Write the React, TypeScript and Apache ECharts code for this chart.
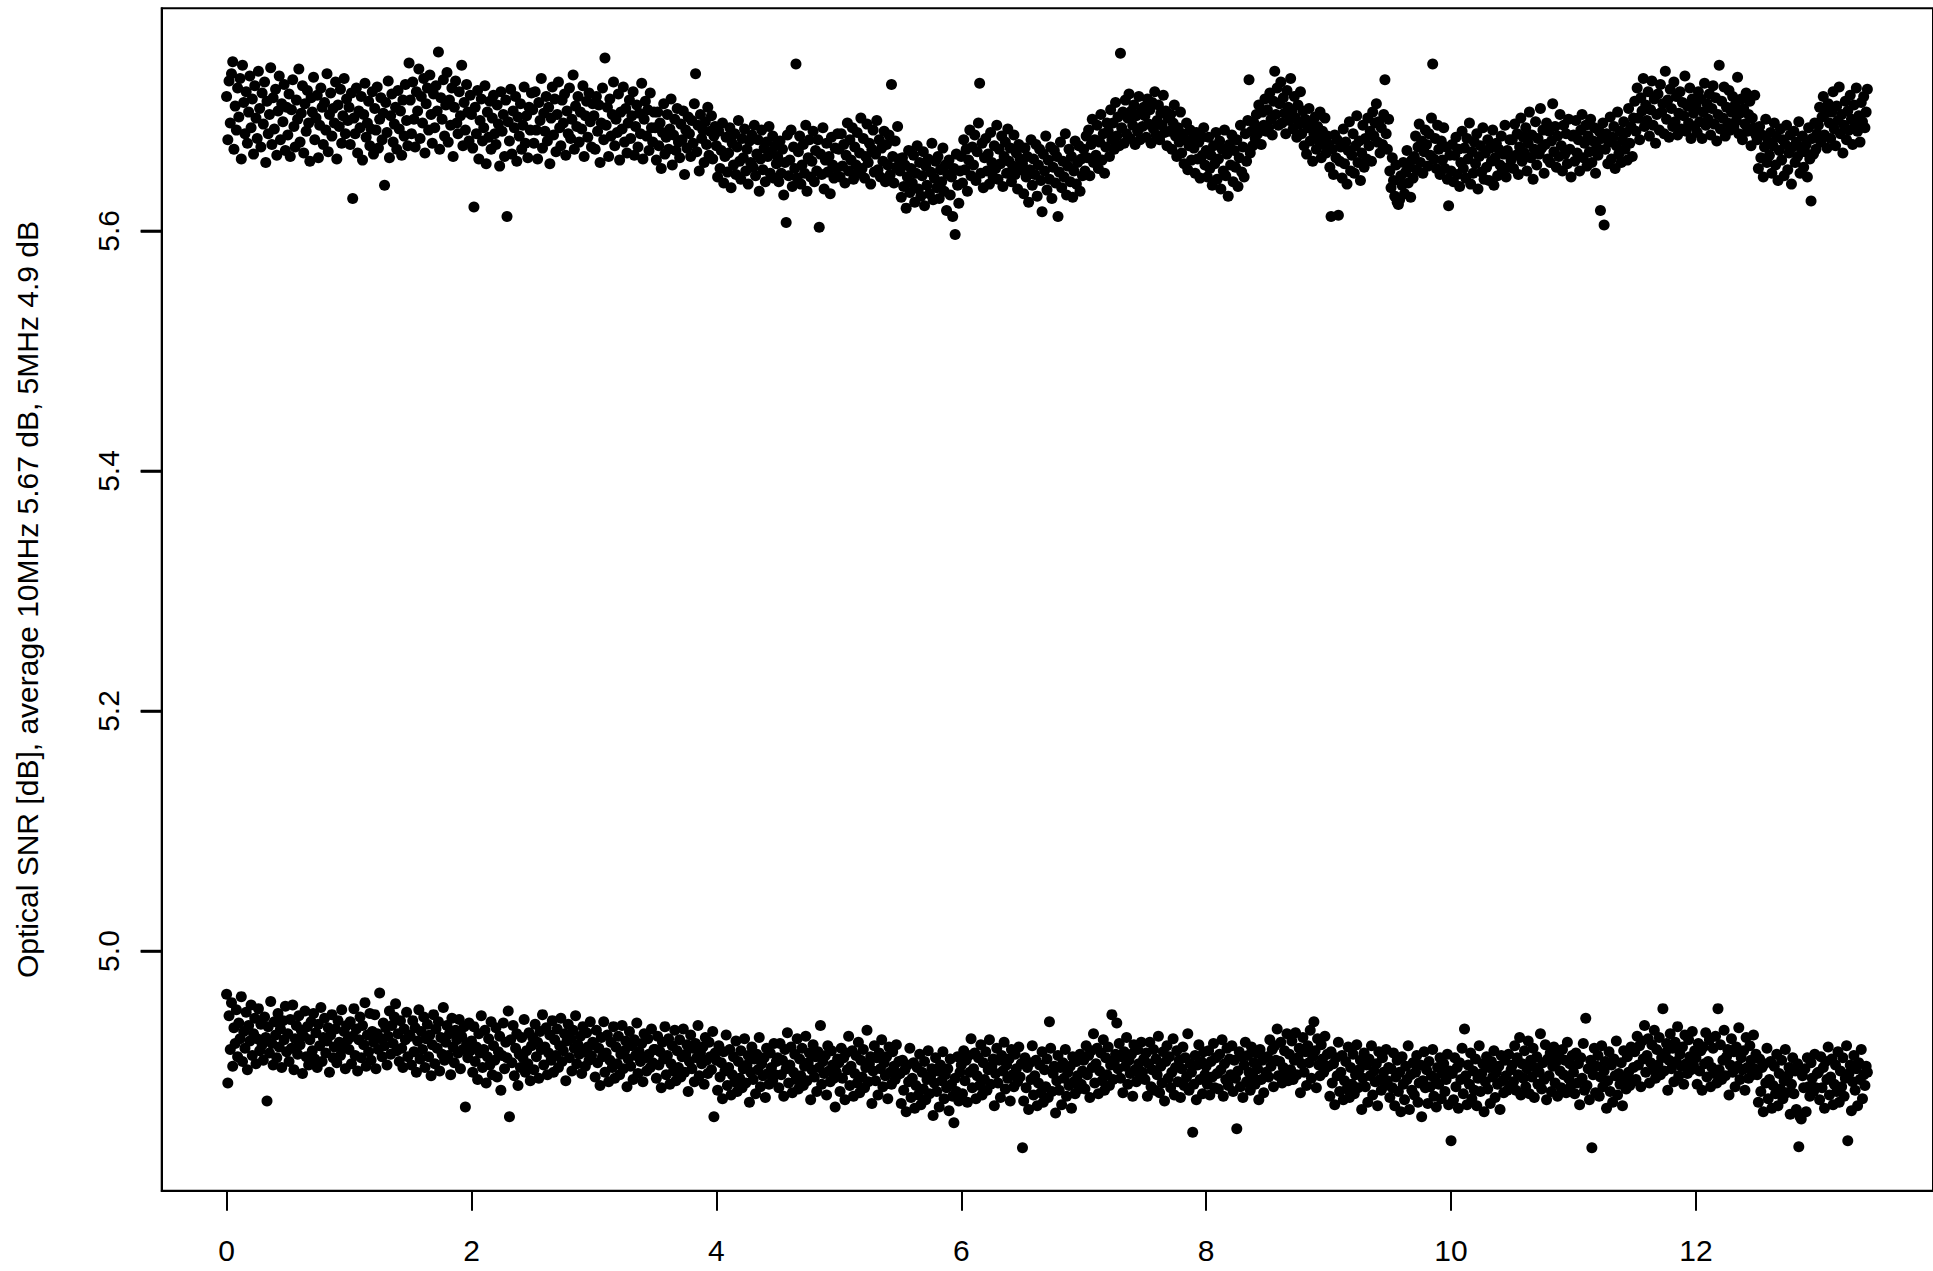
import React, { useEffect, useRef } from "react";
import * as echarts from "echarts";

// sample spacing along the x axis (one sample every 0.01)
const X_STEP = 0.01;
const X_TICKS = [0, 2, 4, 6, 8, 10, 12];
const Y_TICKS = [5.0, 5.2, 5.4, 5.6];
const Y_TITLE = "Optical SNR [dB], average 10MHz 5.67 dB, 5MHz 4.9 dB";

// Optical SNR, 10 MHz, in milli-dB
const snr10MHz_mdB = [
5712,5676,5725,5690,5731,5741,5668,5704,5684,5719,
5695,5727,5660,5738,5707,5681,5716,5673,5699,5729,
5686,5710,5664,5721,5694,5677,5733,5702,5670,5715,
5689,5724,5657,5708,5681,5697,5736,5672,5711,5685,
5718,5663,5700,5729,5676,5706,5691,5722,5667,5703,
5680,5714,5662,5701,5726,5687,5670,5709,5693,5735,
5674,5698,5721,5665,5706,5683,5717,5690,5658,5711,
5699,5728,5676,5694,5713,5661,5688,5719,5703,5672,
5707,5684,5731,5666,5697,5715,5679,5702,5690,5724,
5660,5705,5687,5718,5673,5696,5727,5681,5710,5692,
5703,5672,5715,5627,5694,5681,5719,5665,5700,5686,
5712,5659,5697,5723,5678,5690,5708,5671,5685,5716,
5664,5702,5684,5720,5669,5693,5711,5676,5698,5638,
5707,5682,5725,5661,5696,5714,5674,5689,5703,5668,
5717,5685,5700,5663,5709,5679,5722,5692,5671,5740,
5709,5681,5724,5693,5670,5716,5700,5735,5677,5712,
5690,5727,5665,5706,5719,5684,5730,5697,5673,5714,
5686,5721,5700,5749,5668,5711,5693,5726,5679,5705,
5732,5674,5709,5688,5719,5662,5703,5725,5690,5681,
5716,5696,5738,5671,5707,5684,5722,5699,5675,5713,
5697,5669,5620,5703,5681,5717,5660,5692,5710,5675,
5686,5721,5656,5699,5678,5708,5668,5694,5713,5681,
5672,5705,5689,5654,5716,5683,5697,5662,5709,5612,
5691,5675,5718,5664,5700,5686,5712,5658,5695,5679,
5706,5668,5688,5720,5673,5696,5661,5703,5684,5715,
5701,5673,5716,5684,5660,5707,5692,5727,5669,5698,
5683,5712,5675,5703,5656,5694,5720,5680,5710,5666,
5697,5724,5686,5671,5709,5690,5714,5663,5700,5681,
5719,5677,5693,5730,5668,5704,5687,5712,5674,5699,
5685,5721,5662,5696,5708,5678,5715,5691,5670,5706,
5696,5668,5712,5683,5705,5657,5690,5719,5676,5744,
5688,5703,5662,5710,5679,5697,5724,5671,5693,5682,
5714,5659,5699,5685,5720,5674,5702,5665,5690,5709,
5677,5696,5716,5663,5687,5705,5670,5698,5681,5723,
5660,5693,5708,5679,5701,5667,5715,5686,5674,5699,
5686,5659,5699,5671,5690,5652,5682,5706,5664,5678,
5697,5668,5685,5710,5655,5680,5693,5667,5702,5674,
5661,5689,5676,5700,5647,5684,5669,5695,5681,5662,
5692,5673,5706,5731,5666,5688,5650,5697,5677,5684,
5657,5691,5672,5703,5663,5683,5696,5660,5679,5687,
5671,5645,5683,5652,5667,5690,5640,5662,5678,5649,
5665,5686,5636,5673,5655,5681,5647,5670,5692,5658,
5643,5677,5661,5685,5650,5668,5639,5675,5657,5680,
5653,5688,5646,5664,5676,5633,5660,5684,5651,5669,
5641,5674,5662,5687,5648,5666,5679,5644,5671,5656,
5662,5641,5675,5648,5668,5630,5657,5607,5680,5646,
5659,5684,5637,5670,5652,5739,5644,5666,5679,5639,
5655,5672,5648,5688,5633,5661,5676,5645,5658,5683,
5641,5667,5650,5676,5603,5664,5647,5686,5635,5659,
5673,5649,5662,5631,5678,5655,5644,5669,5652,5681,
5668,5645,5681,5654,5672,5640,5663,5690,5650,5676,
5659,5686,5643,5670,5655,5682,5648,5665,5694,5652,
5677,5644,5662,5689,5657,5673,5639,5668,5684,5649,
5664,5692,5651,5676,5645,5669,5658,5683,5641,5672,
5655,5680,5647,5722,5662,5640,5675,5653,5687,5660,
5650,5628,5661,5637,5655,5619,5645,5667,5632,5652,
5640,5663,5624,5648,5671,5635,5657,5629,5646,5666,
5621,5654,5638,5660,5631,5649,5673,5626,5644,5658,
5636,5662,5627,5651,5641,5669,5633,5655,5617,5647,
5659,5630,5645,5612,5652,5597,5664,5638,5623,5650,
5662,5640,5676,5651,5668,5633,5659,5684,5646,5670,
5655,5680,5642,5666,5690,5723,5648,5673,5636,5661,
5677,5650,5664,5639,5682,5657,5645,5671,5652,5688,
5643,5668,5656,5679,5637,5662,5674,5648,5685,5658,
5669,5641,5654,5680,5647,5665,5635,5672,5660,5651,
5656,5631,5669,5645,5662,5624,5651,5676,5638,5660,
5647,5672,5629,5655,5668,5642,5616,5664,5650,5679,
5634,5659,5643,5670,5627,5653,5667,5640,5662,5612,
5649,5674,5636,5658,5645,5681,5630,5654,5668,5641,
5662,5628,5650,5675,5639,5657,5671,5633,5660,5646,
5668,5650,5679,5661,5684,5646,5672,5693,5657,5676,
5663,5688,5652,5674,5697,5659,5681,5648,5670,5690,
5683,5662,5701,5676,5690,5668,5707,5679,5695,5671,
5748,5686,5699,5673,5709,5681,5694,5714,5677,5700,
5688,5705,5672,5696,5683,5712,5676,5699,5687,5703,
5696,5678,5710,5689,5701,5673,5707,5685,5716,5680,
5692,5705,5676,5698,5688,5713,5682,5700,5671,5694,
5683,5697,5668,5690,5705,5679,5662,5686,5674,5699,
5665,5681,5656,5676,5690,5651,5671,5684,5659,5677,
5669,5648,5682,5660,5674,5644,5678,5663,5686,5655,
5667,5645,5678,5652,5663,5638,5671,5656,5682,5643,
5660,5675,5635,5668,5650,5684,5646,5664,5629,5672,
5655,5680,5641,5667,5653,5676,5637,5661,5688,5649,
5670,5645,5681,5658,5692,5726,5665,5683,5671,5690,
5677,5697,5681,5705,5686,5672,5699,5688,5710,5683,
5701,5686,5715,5693,5680,5708,5733,5697,5719,5688,
5706,5724,5690,5711,5698,5681,5717,5703,5692,5727,
5699,5685,5712,5694,5678,5705,5689,5716,5681,5700,
5671,5693,5664,5686,5702,5675,5690,5658,5681,5695,
5668,5687,5676,5699,5661,5683,5672,5694,5665,5679,
5672,5653,5612,5668,5647,5680,5661,5676,5613,5658,
5670,5644,5685,5656,5674,5639,5667,5691,5650,5663,
5681,5648,5671,5696,5657,5675,5642,5665,5688,5653,
5677,5660,5694,5671,5683,5658,5699,5679,5690,5706,
5674,5691,5665,5686,5672,5697,5726,5681,5668,5693,
5650,5636,5661,5642,5629,5655,5624,5622,5626,5646,
5638,5657,5631,5649,5667,5640,5653,5628,5659,5644,
5662,5679,5651,5670,5689,5657,5675,5648,5666,5684,
5672,5654,5681,5663,5694,5739,5660,5677,5652,5688,
5668,5647,5675,5659,5686,5652,5670,5643,5621,5663,
5650,5672,5641,5663,5678,5647,5668,5637,5657,5683,
5652,5669,5644,5677,5660,5690,5639,5666,5648,5674,
5656,5681,5635,5662,5671,5649,5686,5643,5665,5653,
5676,5642,5669,5658,5684,5638,5661,5673,5646,5668,
5655,5679,5651,5664,5688,5645,5667,5653,5676,5659,
5676,5652,5689,5663,5681,5647,5670,5694,5658,5678,
5665,5686,5650,5673,5699,5661,5680,5643,5668,5691,
5655,5677,5664,5702,5669,5684,5648,5672,5690,5660,
5683,5657,5675,5706,5666,5687,5653,5679,5662,5697,
5671,5650,5688,5664,5681,5656,5693,5668,5645,5679,
5680,5658,5692,5665,5676,5650,5684,5697,5661,5673,
5688,5654,5679,5666,5693,5657,5675,5686,5648,5670,
5663,5683,5617,5677,5690,5605,5668,5681,5656,5674,
5695,5660,5678,5687,5652,5671,5699,5664,5683,5657,
5676,5691,5668,5682,5659,5702,5673,5687,5662,5694,
5708,5683,5719,5694,5676,5711,5700,5727,5687,5705,
5692,5716,5679,5701,5725,5688,5710,5673,5697,5714,
5684,5722,5699,5706,5681,5733,5693,5709,5678,5718,
5702,5687,5724,5691,5712,5680,5698,5716,5685,5707,
5696,5729,5683,5704,5690,5719,5677,5710,5698,5687,
5704,5682,5716,5691,5710,5677,5699,5723,5688,5706,
5693,5714,5680,5702,5721,5689,5711,5675,5697,5738,
5685,5708,5694,5720,5679,5703,5690,5717,5684,5699,
5712,5687,5705,5692,5728,5681,5698,5710,5676,5702,
5689,5715,5683,5697,5708,5671,5694,5686,5713,5680,
5676,5652,5687,5661,5680,5645,5670,5693,5657,5674,
5663,5682,5648,5671,5690,5655,5678,5642,5667,5685,
5659,5676,5646,5672,5688,5651,5665,5680,5639,5670,
5683,5657,5674,5662,5691,5648,5669,5679,5653,5666,
5672,5645,5686,5660,5625,5677,5664,5690,5668,5681,
5688,5703,5674,5695,5712,5680,5698,5669,5706,5690,
5677,5699,5716,5685,5671,5704,5692,5720,5681,5697,
5665,5688,5708,5676,5700,5684,5713,5693,5672,5705,
5689,5719,5683,5696,5674,5707,5691,5712,5686,5699,
5718
];

// Optical SNR, 5 MHz, in milli-dB
const snr5MHz_mdB = [
4964,4890,4946,4918,4957,4904,4936,4923,4951,4912,
4940,4927,4962,4908,4933,4919,4949,4901,4938,4925,
4955,4913,4931,4944,4906,4927,4952,4917,4939,4922,
4909,4945,4928,4875,4937,4915,4958,4923,4905,4941,
4930,4911,4948,4920,4935,4903,4942,4926,4954,4916,
4931,4908,4943,4919,4955,4901,4927,4938,4914,4946,
4922,4934,4898,4929,4950,4912,4937,4905,4926,4941,
4917,4948,4910,4932,4903,4939,4921,4953,4908,4928,
4944,4915,4925,4936,4899,4930,4947,4911,4920,4935,
4907,4942,4924,4913,4951,4919,4933,4902,4938,4926,
4918,4941,4906,4929,4952,4913,4935,4900,4926,4945,
4911,4938,4922,4957,4904,4930,4916,4948,4909,4933,
4924,4947,4902,4931,4918,4965,4927,4912,4940,4921,
4936,4905,4929,4950,4914,4938,4923,4945,4956,4917,
4931,4908,4942,4919,4903,4935,4926,4949,4912,4930,
4929,4905,4942,4916,4936,4899,4925,4951,4910,4933,
4918,4945,4903,4927,4939,4912,4930,4896,4922,4947,
4906,4935,4919,4941,4900,4928,4914,4953,4909,4924,
4938,4913,4931,4897,4944,4920,4907,4934,4926,4915,
4943,4902,4929,4918,4937,4870,4923,4911,4940,4917,
4925,4899,4937,4908,4920,4893,4931,4915,4946,4903,
4918,4934,4890,4912,4927,4905,4941,4897,4921,4909,
4936,4895,4916,4929,4884,4913,4940,4902,4924,4911,
4950,4862,4926,4907,4938,4896,4919,4931,4888,4914,
4903,4928,4911,4943,4899,4917,4906,4932,4892,4921,
4928,4901,4939,4912,4924,4894,4933,4918,4947,4905,
4920,4936,4897,4915,4930,4909,4942,4899,4926,4913,
4935,4903,4921,4944,4908,4917,4931,4892,4925,4939,
4911,4927,4900,4934,4919,4946,4906,4922,4914,4929,
4898,4937,4916,4904,4932,4920,4909,4941,4913,4924,
4922,4895,4934,4907,4919,4888,4928,4912,4941,4899,
4915,4930,4891,4909,4924,4903,4937,4894,4920,4906,
4929,4897,4914,4938,4902,4917,4925,4887,4910,4933,
4904,4921,4893,4926,4913,4940,4898,4916,4908,4923,
4891,4931,4911,4900,4927,4914,4903,4935,4907,4918,
4918,4894,4929,4905,4916,4886,4924,4910,4937,4897,
4913,4927,4889,4906,4921,4900,4934,4892,4917,4903,
4926,4895,4912,4935,4899,4914,4922,4883,4908,4930,
4902,4919,4891,4923,4911,4938,4896,4915,4906,4920,
4889,4928,4909,4898,4924,4912,4901,4933,4862,4915,
4909,4884,4921,4895,4907,4877,4916,4900,4930,4888,
4903,4918,4880,4897,4912,4891,4925,4883,4908,4894,
4917,4886,4902,4927,4890,4905,4913,4874,4899,4920,
4893,4910,4881,4914,4901,4928,4887,4906,4896,4911,
4878,4919,4898,4889,4915,4903,4892,4923,4897,4908,
4911,4886,4923,4897,4909,4879,4918,4902,4932,4890,
4905,4920,4882,4899,4914,4893,4927,4885,4910,4896,
4919,4888,4904,4929,4892,4907,4915,4876,4901,4922,
4895,4912,4883,4916,4903,4938,4889,4908,4898,4913,
4880,4921,4900,4891,4917,4905,4894,4870,4899,4910,
4907,4883,4919,4894,4911,4876,4915,4901,4929,4888,
4904,4917,4879,4898,4913,4890,4924,4882,4909,4895,
4918,4886,4903,4934,4891,4906,4912,4873,4900,4921,
4892,4911,4880,4915,4902,4926,4887,4907,4896,4912,
4877,4920,4899,4889,4916,4904,4893,4922,4897,4908,
4898,4873,4909,4884,4901,4866,4905,4891,4919,4878,
4894,4907,4869,4888,4903,4880,4914,4872,4899,4885,
4908,4876,4893,4917,4881,4896,4902,4863,4890,4911,
4883,4900,4870,4905,4892,4916,4877,4897,4886,4902,
4867,4910,4889,4879,4857,4894,4883,4912,4875,4899,
4905,4881,4917,4892,4909,4874,4913,4899,4927,4886,
4902,4915,4877,4896,4911,4888,4922,4880,4907,4893,
4916,4884,4901,4926,4889,4904,4910,4871,4898,4919,
4890,4909,4878,4913,4900,4924,4885,4905,4894,4910,
4875,4918,4897,4887,4914,4902,4891,4920,4895,4906,
4836,4875,4911,4886,4903,4868,4907,4893,4921,4880,
4896,4909,4871,4890,4905,4882,4916,4874,4901,4887,
4910,4878,4941,4919,4883,4898,4904,4865,4892,4913,
4884,4903,4872,4907,4894,4918,4879,4899,4888,4904,
4869,4912,4891,4881,4908,4896,4885,4914,4889,4900,
4909,4885,4921,4897,4913,4878,4917,4903,4931,4890,
4906,4919,4881,4900,4915,4892,4926,4884,4911,4897,
4920,4888,4905,4947,4893,4908,4914,4940,4902,4923,
4894,4912,4882,4916,4904,4928,4889,4909,4898,4914,
4879,4922,4901,4891,4918,4906,4895,4924,4899,4910,
4893,4915,4879,4906,4924,4887,4901,4918,4884,4910,
4897,4929,4882,4904,4890,4916,4875,4908,4921,4894,
4912,4886,4899,4927,4880,4903,4917,4891,4909,4878,
4902,4920,4888,4911,4895,4931,4884,4906,4899,4849,
4889,4913,4876,4905,4922,4893,4908,4881,4916,4897,
4904,4889,4917,4880,4908,4895,4923,4886,4911,4898,
4885,4914,4901,4926,4879,4906,4893,4919,4888,4910,
4897,4921,4883,4909,4894,4852,4900,4916,4887,4912,
4878,4905,4924,4891,4913,4899,4884,4920,4896,4907,
4889,4915,4902,4876,4918,4893,4909,4882,4911,4899,
4912,4895,4926,4904,4918,4887,4921,4909,4935,4896,
4908,4924,4890,4903,4917,4898,4931,4892,4914,4901,
4925,4893,4909,4932,4897,4911,4919,4882,4906,4928,
4899,4916,4888,4921,4907,4934,4894,4912,4941,4917,
4886,4927,4905,4896,4922,4910,4899,4929,4903,4914,
4904,4879,4916,4890,4906,4872,4911,4896,4924,4883,
4899,4913,4876,4892,4908,4885,4920,4878,4903,4889,
4914,4881,4897,4922,4886,4901,4909,4868,4894,4915,
4887,4905,4874,4910,4896,4921,4880,4900,4891,4906,
4871,4916,4893,4884,4911,4899,4888,4918,4892,4903,
4878,4902,4886,4915,4871,4895,4909,4883,4899,4866,
4912,4889,4876,4904,4893,4921,4868,4897,4884,4907,
4880,4899,4913,4874,4890,4905,4862,4892,4916,4886,
4901,4873,4908,4887,4896,4918,4879,4894,4870,4903,
4889,4911,4877,4898,4906,4883,4893,4914,4872,4900,
4842,4898,4876,4911,4887,4903,4869,4907,4893,4919,
4881,4935,4896,4872,4905,4889,4915,4877,4900,4884,
4910,4871,4894,4921,4883,4898,4906,4866,4891,4912,
4885,4903,4873,4908,4895,4917,4878,4899,4889,4904,
4868,4913,4892,4882,4909,4896,4884,4914,4888,4901,
4905,4891,4921,4884,4911,4897,4928,4880,4906,4894,
4917,4887,4902,4925,4881,4909,4895,4919,4878,4903,
4912,4889,4899,4931,4885,4907,4893,4922,4876,4910,
4896,4915,4883,4904,4920,4890,4908,4879,4913,4900,
4886,4918,4897,4909,4882,4924,4894,4906,4888,4913,
4899,4881,4915,4890,4906,4872,4911,4894,4923,4884,
4944,4888,4902,4876,4909,4836,4897,4919,4882,4904,
4913,4879,4895,4921,4887,4900,4908,4869,4892,4916,
4883,4905,4874,4910,4896,4925,4880,4898,4889,4907,
4871,4917,4893,4885,4912,4899,4888,4920,4891,4903,
4916,4893,4929,4905,4921,4887,4925,4910,4938,4899,
4913,4927,4890,4907,4922,4901,4934,4894,4918,4905,
4928,4897,4911,4952,4900,4915,4923,4884,4909,4931,
4902,4919,4891,4924,4908,4937,4896,4914,4904,4920,
4889,4930,4906,4898,4926,4912,4901,4933,4905,4917,
4911,4889,4923,4900,4917,4884,4920,4906,4932,4895,
4908,4926,4887,4903,4919,4898,4929,4890,4952,4901,
4922,4893,4909,4934,4896,4912,4918,4880,4905,4927,
4899,4916,4887,4920,4904,4936,4893,4911,4901,4917,
4884,4928,4903,4894,4921,4909,4897,4930,4902,4914,
4897,4874,4910,4883,4903,4866,4906,4890,4919,4877,
4893,4908,4869,4888,4904,4881,4914,4871,4898,4885,
4909,4877,4892,4918,4882,4896,4903,4864,4889,4911,
4881,4900,4868,4906,4837,4862,4860,4896,4886,4902,
4866,4911,4887,4879,4907,4894,4883,4914,4886,4898,
4899,4876,4912,4886,4903,4869,4908,4893,4920,4880,
4895,4910,4872,4889,4905,4883,4916,4874,4900,4887,
4911,4879,4894,4921,4842,4898,4905,4867,4891,4913,
4884,4902,4871,4907,4893,4918,4877,4897,4888,4904,
4899
];

const toPoints = (values: number[]) =>
  values.map((v, i) => [Math.round(i * X_STEP * 1000) / 1000, v / 1000]);

const FONT = "Liberation Sans, Arial, Helvetica, sans-serif";
const FS = 30;
const GRID_LEFT = 161.7;
const TICK_LEN = 21;

export default function App() {
  const ref = useRef<HTMLDivElement>(null);
  useEffect(() => {
    if (!ref.current) return;
    const chart = echarts.init(ref.current, undefined, { renderer: "svg" });
    chart.setOption({
      animation: false,
      backgroundColor: "#ffffff",
      grid: {
        left: GRID_LEFT,
        top: 8.3,
        width: 1773.5,
        height: 1182.4,
        show: true,
        borderColor: "#000",
        borderWidth: 2,
      },
      xAxis: [
        {
          type: "value",
          min: -0.53,
          max: 13.936,
          axisLine: { show: true, onZero: false, lineStyle: { color: "#000", width: 2 } },
          splitLine: { show: false },
          axisTick: { show: true, length: 20, customValues: X_TICKS, lineStyle: { color: "#000", width: 2 } },
          axisLabel: {
            customValues: X_TICKS,
            color: "#000",
            fontFamily: FONT,
            fontSize: FS,
            margin: 45,
            formatter: (v: number) => String(v),
          },
        },
      ],
      yAxis: [
        {
          type: "value",
          min: 4.8003,
          max: 5.7855,
          axisLine: { show: true, onZero: false, lineStyle: { color: "#000", width: 2 } },
          splitLine: { show: false },
          axisTick: { show: true, length: TICK_LEN, customValues: Y_TICKS, lineStyle: { color: "#000", width: 2.5 } },
          axisLabel: {
            customValues: Y_TICKS,
            rotate: 90,
            color: "#000",
            fontFamily: FONT,
            fontSize: FS,
            margin: 38,
            formatter: (v: number) => v.toFixed(1),
          },
        },
      ],
      series: [
        {
          name: "10MHz",
          type: "scatter",
          data: toPoints(snr10MHz_mdB),
          symbol: "circle",
          symbolSize: 11,
          itemStyle: { color: "#000", opacity: 1 },
          progressive: 0,
          silent: true,
        },
        {
          name: "5MHz",
          type: "scatter",
          data: toPoints(snr5MHz_mdB),
          symbol: "circle",
          symbolSize: 11,
          itemStyle: { color: "#000", opacity: 1 },
          progressive: 0,
          silent: true,
        },
      ],
    });

    // y tick marks placed through the y axis scale
    const tickLines = Y_TICKS.map((v, i) => {
      const y = chart.convertToPixel({ yAxisIndex: 0 }, v) as number;
      return {
        type: "line",
        id: "ytick" + i,
        silent: true,
        z: 100,
        shape: { x1: GRID_LEFT - TICK_LEN, y1: y, x2: GRID_LEFT, y2: y },
        style: { stroke: "#000", lineWidth: 2.5 },
      };
    });
    chart.setOption({
      graphic: [
        {
          type: "text",
          id: "ytitle",
          x: 27,
          y: 599.5,
          rotation: Math.PI / 2,
          silent: true,
          style: {
            text: Y_TITLE,
            fill: "#000",
            fontFamily: FONT,
            fontSize: FS,
            align: "center",
            verticalAlign: "middle",
          },
        },
        ...tickLines,
      ],
    });
    return () => chart.dispose();
  }, []);
  return (
    <div
      ref={ref}
      style={{ position: "absolute", left: 0, top: 0, width: 1933, height: 1271 }}
    />
  );
}
